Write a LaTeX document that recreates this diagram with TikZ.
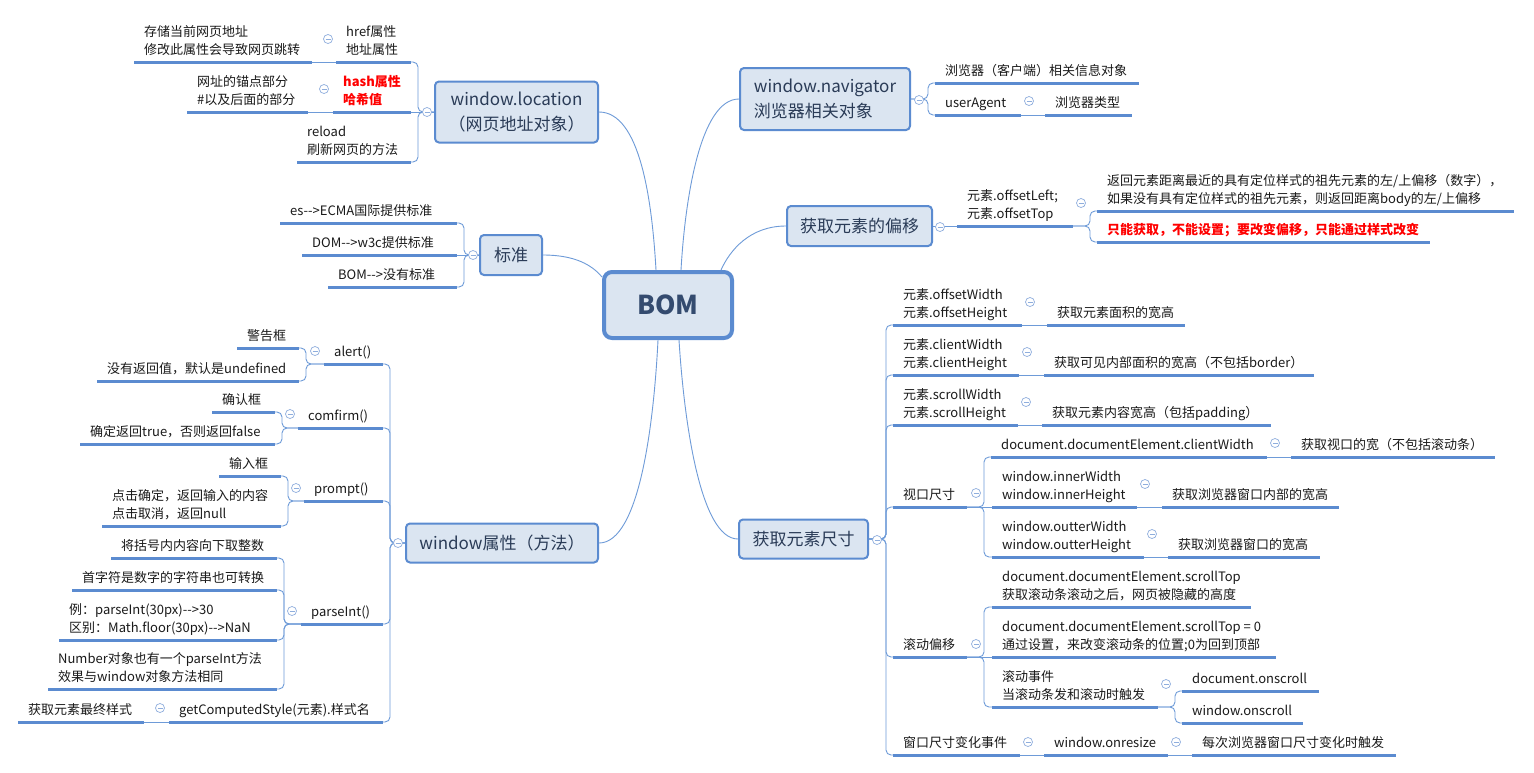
\documentclass[tikz,border=0pt]{standalone}
\usepackage{fontspec}
\setmainfont{Noto Sans CJK SC}
\usetikzlibrary{calc}
\definecolor{ulc}{HTML}{5B8BD0}
\definecolor{lnc}{HTML}{6E9BD8}
\definecolor{bfill}{HTML}{DBE5F1}
\definecolor{mkc}{HTML}{8FAEDD}
\definecolor{txc}{HTML}{1A1A1A}
\definecolor{btx}{HTML}{2A3B57}
\definecolor{redc}{HTML}{FF0000}
\tikzset{
  ul/.style={draw=ulc, line width=3pt},
  conn/.style={draw=lnc, line width=0.9pt, rounded corners=5pt},
  curve/.style={draw=lnc, line width=0.9pt},
  leaf/.style={anchor=south west, inner sep=0pt, text depth=0pt, align=left, font=\fontsize{13}{18}\selectfont, text=txc},
  hot/.style={text=redc, font=\fontsize{13}{18}\selectfont\bfseries},
  box/.style={draw=ulc, fill=bfill, line width=2pt, rounded corners=4pt, inner sep=0pt, text=btx, font=\fontsize{17}{25}\selectfont, align=center},
  mk/.style={circle, draw=mkc, fill=white, line width=0.7pt, minimum size=9pt, inner sep=0pt,
    path picture={\draw[mkc, line width=0.7pt] ($(path picture bounding box.center)+(-2.5,0)$) -- ($(path picture bounding box.center)+(2.5,0)$);}}
}
\newcommand\topic[6][]{\draw[ul] (#3,#5) coordinate (#2-l) -- (#4,#5) coordinate (#2-r); \node[leaf,#1] (#2) at (#3+10,#5-7) {#6};}
\newcommand\elbow[3]{\draw[conn] (#1) -- (#1 -| #2) |- (#3);}
\begin{document}
\begin{tikzpicture}[x=1pt, y=-1pt]
\fill[white] (0,0) rectangle (1534,772);
\useasboundingbox (0,0) rectangle (1534,772);

% ---- central and main boxes
\node[box, line width=4pt, rounded corners=8pt, minimum width=128pt, minimum height=66pt, font=\fontsize{26}{30}\selectfont\bfseries, text=btx!80!ulc] (bom) at (668,305) {BOM};
\node[box, minimum width=163pt, minimum height=61pt] (loc) at (516.5,112) {window.location\\（网页地址对象）};
\node[box, minimum width=62pt, minimum height=40pt] (std) at (511,255) {标准};
\node[box, minimum width=192pt, minimum height=39pt] (wprop) at (502,543) {window属性（方法）};
\node[box, minimum width=170pt, minimum height=62pt, align=left] (nav) at (825,99) {window.navigator\\浏览器相关对象};
\node[box, minimum width=145pt, minimum height=40pt] (off) at (859.5,226) {获取元素的偏移};
\node[box, minimum width=129pt, minimum height=39pt] (size) at (803.5,539) {获取元素尺寸};

% ---- curves from BOM
\draw[curve] (loc.east) .. controls (640,112) and (652,200) .. ($(bom.north)+(-12,0)$);
\draw[curve] (std.east) .. controls (575,255) and (592,265) .. ($(bom.north west)+(0,7)$);
\draw[curve] (wprop.east) .. controls (640,543) and (654,420) .. ($(bom.south)+(-10,0)$);
\draw[curve] (nav.west) .. controls (700,99) and (685,200) .. ($(bom.north)+(13,0)$);
\draw[curve] (off.west) .. controls (750,226) and (730,250) .. ($(bom.north east)+(-13,0)$);
\draw[curve] (size.west) .. controls (700,539) and (684,420) .. ($(bom.south)+(11,0)$);

% ---- vertical guides
\coordinate (vloc) at (418,0);
\coordinate (vstd) at (464,0);
\coordinate (vwp) at (390,0);
\coordinate (valert) at (306,0);
\coordinate (vconf) at (282,0);
\coordinate (vprom) at (288,0);
\coordinate (vpars) at (284,0);
\coordinate (vnav) at (928,0);
\coordinate (voffl) at (1090,0);
\coordinate (vsize) at (886,0);
\coordinate (vvp) at (984,0);
\coordinate (vsc) at (984,0);
\coordinate (vsev) at (1175,0);

% ---- window.location
\topic{hrefc}{134}{312}{62}{存储当前网页地址\\修改此属性会导致网页跳转}
\topic{href}{336}{411}{62}{href属性\\地址属性}
\topic{hashc}{187}{308}{112}{网址的锚点部分\\\#以及后面的部分}
\topic[hot]{hash}{333}{411}{112}{hash属性\\哈希值}
\topic{reload}{297}{411}{162}{reload\\刷新网页的方法}
\elbow{loc.west}{vloc}{href-r}
\draw[conn] (loc.west) -- (hash-r);
\elbow{loc.west}{vloc}{reload-r}
\draw[conn] (href-l) -- (hrefc-r);
\draw[conn] (hash-l) -- (hashc-r);

% ---- 标准
\topic{es}{280}{457}{223}{es-{}->ECMA国际提供标准}
\topic{dom}{302}{457}{255}{DOM-{}->w3c提供标准}
\topic{bstd}{328}{457}{287}{BOM-{}->没有标准}
\elbow{std.west}{vstd}{es-r}
\draw[conn] (std.west) -- (dom-r);
\elbow{std.west}{vstd}{bstd-r}

% ---- window属性
\topic{alert}{324}{383}{364}{alert()}
\topic{alc1}{237}{299}{348}{警告框}
\topic{alc2}{97}{299}{381}{没有返回值，默认是undefined}
\topic{conf}{298}{383}{428}{comfirm()}
\topic{cfc1}{212}{275}{412}{确认框}
\topic{cfc2}{80}{275}{444}{确定返回true，否则返回false}
\topic{prom}{304}{383}{501}{prompt()}
\topic{prc1}{219}{281}{476}{输入框}
\topic{prc2}{102}{281}{526}{点击确定，返回输入的内容\\点击取消，返回null}
\topic{pars}{301}{383}{624}{parseInt()}
\topic{pac1}{111}{277}{558}{将括号内内容向下取整数}
\topic{pac2}{72}{277}{590}{首字符是数字的字符串也可转换}
\topic{pac3}{59}{277}{640}{例：parseInt(30px)-{}->30\\区别：Math.floor(30px)-{}->NaN}
\topic{pac4}{48}{277}{689}{Number对象也有一个parseInt方法\\效果与window对象方法相同}
\topic{gcs}{169}{383}{722}{getComputedStyle(元素).样式名}
\topic{gcsc}{18}{144}{722}{获取元素最终样式}
\elbow{wprop.west}{vwp}{alert-r}
\elbow{wprop.west}{vwp}{conf-r}
\elbow{wprop.west}{vwp}{prom-r}
\elbow{wprop.west}{vwp}{pars-r}
\elbow{wprop.west}{vwp}{gcs-r}
\elbow{alert-l}{valert}{alc1-r}
\elbow{alert-l}{valert}{alc2-r}
\elbow{conf-l}{vconf}{cfc1-r}
\elbow{conf-l}{vconf}{cfc2-r}
\elbow{prom-l}{vprom}{prc1-r}
\elbow{prom-l}{vprom}{prc2-r}
\elbow{pars-l}{vpars}{pac1-r}
\elbow{pars-l}{vpars}{pac2-r}
\elbow{pars-l}{vpars}{pac3-r}
\elbow{pars-l}{vpars}{pac4-r}
\draw[conn] (gcs-l) -- (gcsc-r);

% ---- window.navigator
\topic{navc}{935}{1139}{83}{浏览器（客户端）相关信息对象}
\topic{ua}{935}{1021}{115}{userAgent}
\topic{uac}{1045}{1132}{115}{浏览器类型}
\elbow{nav.east}{vnav}{navc-l}
\elbow{nav.east}{vnav}{ua-l}
\draw[conn] (ua-r) -- (uac-l);

% ---- 获取元素的偏移
\topic{offl}{957}{1073}{226}{元素.offsetLeft;\\元素.offsetTop}
\topic{ofc1}{1097}{1514}{211}{返回元素距离最近的具有定位样式的祖先元素的左/上偏移（数字），\\如果没有具有定位样式的祖先元素，则返回距离body的左/上偏移}
\topic[hot]{ofc2}{1097}{1430}{242}{只能获取，不能设置；要改变偏移，只能通过样式改变}
\draw[conn] (off.east) -- (offl-l);
\elbow{offl-r}{voffl}{ofc1-l}
\elbow{offl-r}{voffl}{ofc2-l}

% ---- 获取元素尺寸
\topic{ow}{893}{1022}{325}{元素.offsetWidth\\元素.offsetHeight}
\topic{owc}{1047}{1185}{325}{获取元素面积的宽高}
\topic{cw}{893}{1019}{375}{元素.clientWidth\\元素.clientHeight}
\topic{cwc}{1044}{1314}{375}{获取可见内部面积的宽高（不包括border）}
\topic{sw}{893}{1018}{425}{元素.scrollWidth\\元素.scrollHeight}
\topic{swc}{1042}{1271}{425}{获取元素内容宽高（包括padding）}
\topic{vp}{893}{967}{507}{视口尺寸}
\topic{dcw}{991}{1267}{457}{document.documentElement.clientWidth}
\topic{dcwc}{1291}{1495}{457}{获取视口的宽（不包括滚动条）}
\topic{iw}{992}{1137}{507}{window.innerWidth\\window.innerHeight}
\topic{iwc}{1162}{1339}{507}{获取浏览器窗口内部的宽高}
\topic{otw}{992}{1144}{557}{window.outterWidth\\window.outterHeight}
\topic{otwc}{1168}{1320}{557}{获取浏览器窗口的宽高}
\topic{sc}{893}{967}{657}{滚动偏移}
\topic{st1}{992}{1251}{607}{document.documentElement.scrollTop\\获取滚动条滚动之后，网页被隐藏的高度}
\topic{st2}{992}{1276}{657}{document.documentElement.scrollTop = 0\\通过设置，来改变滚动条的位置;0为回到顶部}
\topic{sev}{992}{1158}{707}{滚动事件\\当滚动条发和滚动时触发}
\topic{dos}{1182}{1319}{691}{document.onscroll}
\topic{wos}{1182}{1303}{723}{window.onscroll}
\topic{rs}{893}{1020}{755}{窗口尺寸变化事件}
\topic{onr}{1044}{1168}{755}{window.onresize}
\topic{onrc}{1192}{1396}{755}{每次浏览器窗口尺寸变化时触发}
\elbow{size.east}{vsize}{ow-l}
\elbow{size.east}{vsize}{cw-l}
\elbow{size.east}{vsize}{sw-l}
\elbow{size.east}{vsize}{vp-l}
\elbow{size.east}{vsize}{sc-l}
\elbow{size.east}{vsize}{rs-l}
\draw[conn] (ow-r) -- (owc-l);
\draw[conn] (cw-r) -- (cwc-l);
\draw[conn] (sw-r) -- (swc-l);
\elbow{vp-r}{vvp}{dcw-l}
\draw[conn] (vp-r) -- (iw-l);
\elbow{vp-r}{vvp}{otw-l}
\draw[conn] (dcw-r) -- (dcwc-l);
\draw[conn] (iw-r) -- (iwc-l);
\draw[conn] (otw-r) -- (otwc-l);
\elbow{sc-r}{vsc}{st1-l}
\draw[conn] (sc-r) -- (st2-l);
\elbow{sc-r}{vsc}{sev-l}
\elbow{sev-r}{vsev}{dos-l}
\elbow{sev-r}{vsev}{wos-l}
\draw[conn] (rs-r) -- (onr-l);
\draw[conn] (onr-r) -- (onrc-l);

% ---- collapse markers
\node[mk] (m1) at (427,112) {};
\node[mk] (m2) at (328,39) {};
\node[mk] (m3) at (324,89) {};
\node[mk] (m4) at (473,255) {};
\node[mk] (m5) at (398,543) {};
\node[mk] (m6) at (315,351) {};
\node[mk] (m7) at (290,414) {};
\node[mk] (m8) at (296,488) {};
\node[mk] (m9) at (292,611) {};
\node[mk] (m10) at (160,708) {};
\node[mk] (m11) at (919,100) {};
\node[mk] (m12) at (1029,101) {};
\node[mk] (m13) at (940,227) {};
\node[mk] (m14) at (1081,203) {};
\node[mk] (m15) at (877,540) {};
\node[mk] (m16) at (1030,302) {};
\node[mk] (m17) at (1027,352) {};
\node[mk] (m18) at (1026,402) {};
\node[mk] (m19) at (976,493) {};
\node[mk] (m20) at (1275,443) {};
\node[mk] (m21) at (1145,484) {};
\node[mk] (m22) at (1152,534) {};
\node[mk] (m23) at (976,644) {};
\node[mk] (m24) at (1166,684) {};
\node[mk] (m25) at (1028,742) {};
\node[mk] (m26) at (1176,742) {};
\end{tikzpicture}
\end{document}
